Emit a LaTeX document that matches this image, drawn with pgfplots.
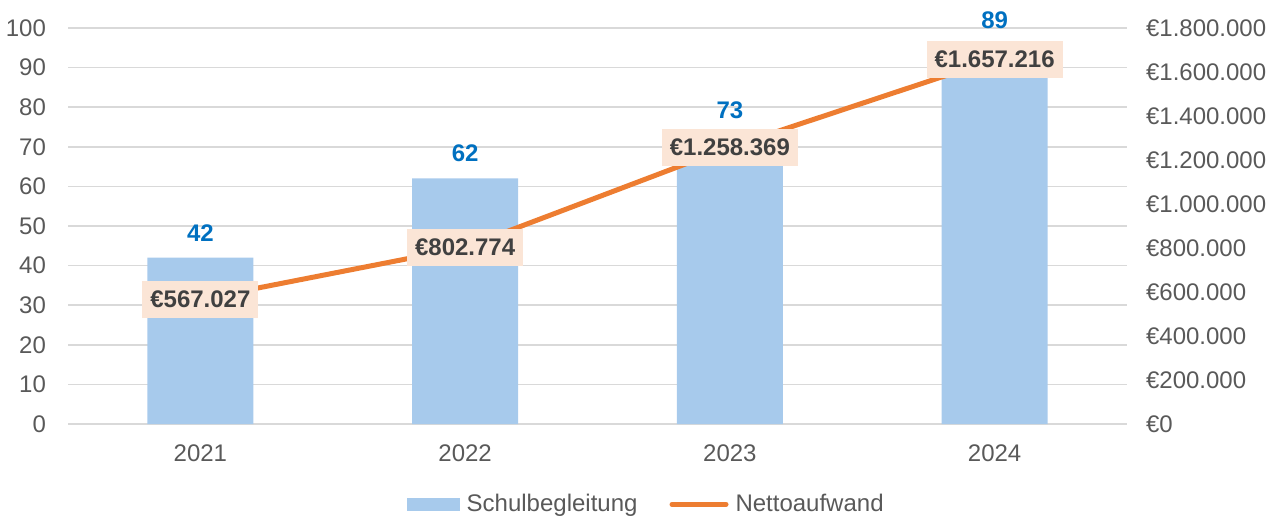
\documentclass[border=0pt]{standalone}
\usepackage{pgfplots}
\pgfplotsset{compat=1.18}
\usepackage{fontspec}
\setmainfont{Liberation Sans}
\definecolor{barblue}{RGB}{167,202,236}
\definecolor{lineorange}{RGB}{237,125,49}
\definecolor{labelbg}{RGB}{251,229,214}
\definecolor{labelblue}{RGB}{0,112,192}
\definecolor{txtgray}{RGB}{89,89,89}
\definecolor{gridgray}{RGB}{217,217,217}
\definecolor{darktxt}{RGB}{64,64,64}
\begin{document}
\begin{tikzpicture}
\useasboundingbox (-34pt,-46pt) rectangle (605.5pt,212pt);
\pgfplotsset{common/.style={
  scale only axis, width=529.5pt, height=198pt,
  xmin=-0.5, xmax=3.5, clip=false,
  axis line style={draw=none}, major tick length=0pt,
  tick label style={font=\fontsize{12}{14}\selectfont, text=txtgray},
  /pgf/number format/assume math mode=true,
}}
\begin{axis}[common,
  ymin=0, ymax=100, ytick={0,10,...,100},
  ymajorgrids, grid style={gridgray, line width=0.75pt},
  xtick={0,1,2,3}, xticklabels={2021,2022,2023,2024},
  xticklabel style={yshift=-7pt},
  yticklabel style={xshift=-7.5pt},
]
\addplot[ybar, bar width=53pt, fill=barblue, draw=none,
  visualization depends on={\thisrow{off} \as \off},
  nodes near coords,
  nodes near coords style={anchor=center, yshift=\off pt, text=labelblue,
    font=\fontsize{12}{14}\selectfont\bfseries, /pgf/number format/assume math mode=true},
] table {
x y off
0 42 12.5
1 62 12.5
2 73 12.5
3 89 25.5
};
\end{axis}
\begin{axis}[common,
  ymin=0, ymax=1800000, ytick={0,200000,...,1800000},
  scaled y ticks=false,
  yticklabels={€0,€200.000,€400.000,€600.000,€800.000,€1.000.000,€1.200.000,€1.400.000,€1.600.000,€1.800.000},
  axis y line*=right, axis x line=none,
  yticklabel style={xshift=6pt},
  legend columns=2,
  legend style={at={(0.547,-0.203)}, anchor=center, draw=none, fill=none,
    font=\fontsize{12}{14}\selectfont, text=txtgray,
    /tikz/every even column/.append style={column sep=14pt},
    /tikz/every odd column/.append style={column sep=1.5pt},
    inner xsep=0pt, inner ysep=0pt},
]
\addlegendimage{legend image code/.code={\fill[barblue] (0pt,-3pt) rectangle (26pt,3pt);}}
\addlegendentry{Schulbegleitung}
\addplot[lineorange, line width=2.5pt, mark=none,
  legend image code/.code={\draw[lineorange, line width=2.5pt, line cap=round] (0pt,0pt) -- (27pt,0pt);},
  nodes near coords, point meta=explicit symbolic,
  nodes near coords style={anchor=center, fill=labelbg, text=darktxt,
    font=\fontsize{12}{14}\selectfont\bfseries, inner xsep=4pt, inner ysep=5pt},
] table[meta=lab] {
x y lab
0 567027 €567.027
1 802774 €802.774
2 1258369 €1.258.369
3 1657216 €1.657.216
};
\addlegendentry{Nettoaufwand}
\end{axis}
\end{tikzpicture}
\end{document}
